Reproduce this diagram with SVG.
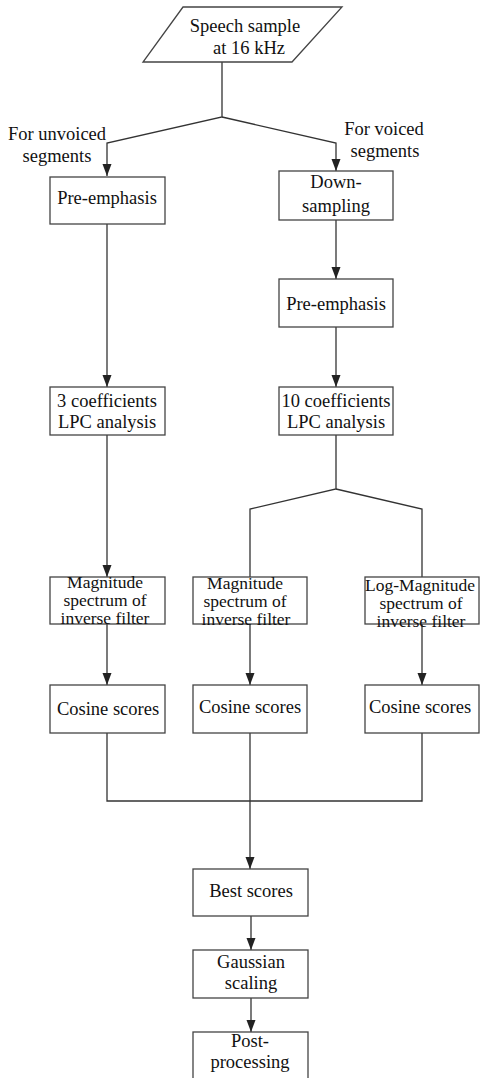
<svg xmlns="http://www.w3.org/2000/svg" width="480" height="1078" viewBox="0 0 480 1078">
<style>
.b{fill:#fff;stroke:#444;stroke-width:1.3}
.c{fill:none;stroke:#333;stroke-width:1.3}
text{font-family:"Liberation Serif","Times New Roman",serif;font-size:18.5px;fill:#111;text-anchor:middle}
.s{font-size:17.5px}
</style>
<defs>
<marker id="ar" viewBox="0 0 12 10" refX="12" refY="5" markerWidth="12" markerHeight="10" markerUnits="userSpaceOnUse" orient="auto">
<path d="M0,0.5 L12,5 L0,9.5 Z" fill="#222"/>
</marker>
</defs>
<rect width="480" height="1078" fill="#fff"/>
<g id="connectors">
<polyline class="c" points="222,62 222,117 107,143 107,176" marker-end="url(#ar)"/>
<polyline class="c" points="222,117 336,143 336,171" marker-end="url(#ar)"/>
<line class="c" x1="336" y1="220" x2="336" y2="279" marker-end="url(#ar)"/>
<line class="c" x1="336" y1="327" x2="336" y2="387" marker-end="url(#ar)"/>
<line class="c" x1="107" y1="224" x2="107" y2="387" marker-end="url(#ar)"/>
<line class="c" x1="107" y1="435" x2="107" y2="577" marker-end="url(#ar)"/>
<polyline class="c" points="336,435 336,489 250,509 250,577"/>
<polyline class="c" points="336,489 422,509 422,577"/>
<line class="c" x1="107" y1="624" x2="107" y2="685" marker-end="url(#ar)"/>
<line class="c" x1="250" y1="624" x2="250" y2="685" marker-end="url(#ar)"/>
<line class="c" x1="422" y1="624" x2="422" y2="685" marker-end="url(#ar)"/>
<polyline class="c" points="107,733 107,801 422,801 422,733"/>
<line class="c" x1="250" y1="733" x2="250" y2="869" marker-end="url(#ar)"/>
<line class="c" x1="251" y1="916" x2="251" y2="950" marker-end="url(#ar)"/>
<line class="c" x1="251" y1="998" x2="251" y2="1032" marker-end="url(#ar)"/>
</g>
<g id="labels">
<text x="57" y="140">For unvoiced</text>
<text x="57" y="162">segments</text>
<text x="384" y="135">For voiced</text>
<text x="385" y="157">segments</text>
</g>
<g id="input">
<polygon class="b" points="183,7 342,7 292,62 143,62"/>
<text x="245" y="32">Speech sample</text>
<text x="249" y="54">at 16 kHz</text>
</g>
<g id="preemph-u">
<rect class="b" x="50" y="177" width="115" height="47"/>
<text x="107" y="204">Pre-emphasis</text>
</g>
<g id="downsampling">
<rect class="b" x="279" y="171" width="114" height="49"/>
<text x="336" y="188">Down-</text>
<text x="336" y="212">sampling</text>
</g>
<g id="preemph-v">
<rect class="b" x="279" y="279" width="114" height="48"/>
<text x="336" y="310">Pre-emphasis</text>
</g>
<g id="lpc3">
<rect class="b" x="50" y="387" width="115" height="48"/>
<text x="107" y="407">3 coefficients</text>
<text x="107" y="428">LPC analysis</text>
</g>
<g id="lpc10">
<rect class="b" x="279" y="387" width="114" height="48"/>
<text x="336" y="407">10 coefficients</text>
<text x="336" y="428">LPC analysis</text>
</g>
<g id="mag-u">
<rect class="b" x="50" y="577" width="115" height="47"/>
<text class="s" x="105" y="588">Magnitude</text>
<text class="s" x="105" y="606">spectrum of</text>
<text class="s" x="105" y="624">inverse filter</text>
</g>
<g id="mag-v">
<rect class="b" x="193" y="577" width="114" height="47"/>
<text class="s" x="245" y="589">Magnitude</text>
<text class="s" x="245" y="607">spectrum of</text>
<text class="s" x="246" y="625">inverse filter</text>
</g>
<g id="logmag-v">
<rect class="b" x="365" y="577" width="114" height="47"/>
<text class="s" x="420" y="591">Log-Magnitude</text>
<text class="s" x="421" y="609">spectrum of</text>
<text class="s" x="421" y="627">inverse filter</text>
</g>
<g id="cos-u">
<rect class="b" x="50" y="685" width="115" height="48"/>
<text x="108" y="715">Cosine scores</text>
</g>
<g id="cos-v1">
<rect class="b" x="193" y="685" width="114" height="48"/>
<text x="250" y="713">Cosine scores</text>
</g>
<g id="cos-v2">
<rect class="b" x="365" y="685" width="114" height="48"/>
<text x="420" y="713">Cosine scores</text>
</g>
<g id="best">
<rect class="b" x="193" y="869" width="115" height="47"/>
<text x="251" y="897">Best scores</text>
</g>
<g id="gauss">
<rect class="b" x="193" y="950" width="115" height="48"/>
<text x="251" y="968">Gaussian</text>
<text x="251" y="989">scaling</text>
</g>
<g id="post">
<rect class="b" x="193" y="1032" width="115" height="50"/>
<text x="250" y="1047">Post-</text>
<text x="250" y="1068">processing</text>
</g>
</svg>
